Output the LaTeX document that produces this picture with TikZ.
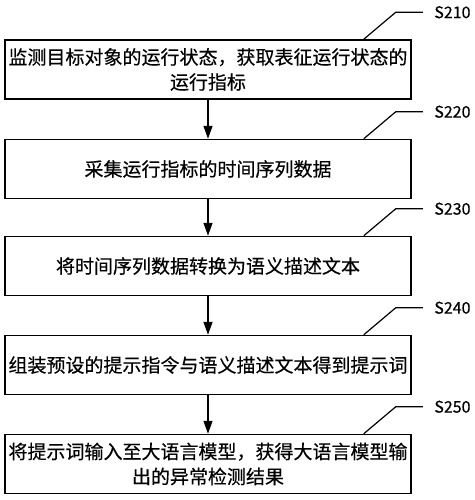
\documentclass[tikz,border=0pt]{standalone}
\usepackage{fontspec}
\usetikzlibrary{arrows.meta}
\newfontfamily\cjk[FakeBold=0.4]{Noto Sans CJK SC}

\tikzset{
  stepbox/.style={draw,line width=1.5pt,minimum width=406pt,minimum height=59pt,
    align=center,inner sep=0pt,font=\cjk\fontsize{19}{25}\selectfont},
  flow/.style={line width=1.5pt,-{Triangle[width=9pt,length=13pt]}},
  lead/.style={line width=1.2pt},
  tag/.style={anchor=west,inner sep=0pt,xshift=11pt,font=\cjk\fontsize{16}{18}\selectfont}
}

\begin{document}
\begin{tikzpicture}[x=1pt,y=-1pt]
        \useasboundingbox (0,0) rectangle (474,500);
        \node[stepbox] (s210) at (208,69.5) {监测目标对象的运行状态，获取表征运行状态的\\运行指标};
        \node[stepbox] (s220) at (208,169) {采集运行指标的时间序列数据};
        \node[stepbox] (s230) at (208,266) {将时间序列数据转换为语义描述文本};
        \node[stepbox] (s240) at (208,365) {组装预设的提示指令与语义描述文本得到提示词};
        \node[stepbox] (s250) at (208,464) {将提示词输入至大语言模型，获得大语言模型输\\出的异常检测结果};
        \draw[flow] (s210) -- (s220);
        \draw[flow] (s220) -- (s230);
        \draw[flow] (s230) -- (s240);
        \draw[flow] (s240) -- (s250);
        \draw[lead] ([xshift=-48pt]s210.north east) -- ++(32,-27) -- ++(27,0) node[tag] {S210};
        \draw[lead] ([xshift=-48pt]s220.north east) -- ++(32,-27) -- ++(27,0) node[tag] {S220};
        \draw[lead] ([xshift=-48pt]s230.north east) -- ++(32,-27) -- ++(27,0) node[tag] {S230};
        \draw[lead] ([xshift=-48pt]s240.north east) -- ++(32,-27) -- ++(27,0) node[tag] {S240};
        \draw[lead] ([xshift=-48pt]s250.north east) -- ++(32,-27) -- ++(27,0) node[tag] {S250};
      \end{tikzpicture}
\end{document}
